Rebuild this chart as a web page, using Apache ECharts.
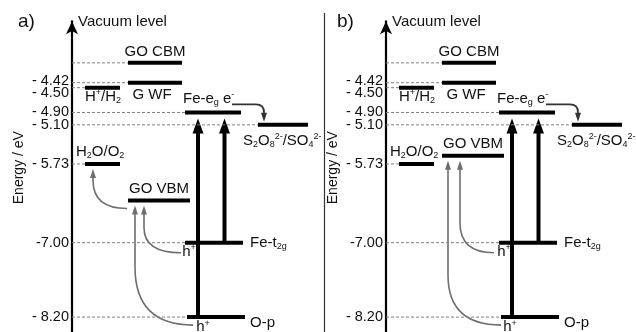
<!DOCTYPE html>
<html>
<head>
<meta charset="utf-8">
<script src="https://cdn.jsdelivr.net/npm/echarts@6/dist/echarts.min.js"></script>
<style>
html, body { margin: 0; padding: 0; background: #fff; }
#chart { width: 636px; height: 332px; }
</style>
</head>
<body>
<div id="chart"></div>
<script>
// energy levels, eV vs vacuum
var levelNames = ['GO CBM', 'G WF', 'H+/H2', 'Fe-eg', 'S2O8/SO4', 'H2O/O2', 'GO VBM', 'Fe-t2g', 'O-p'];
var energyA = [-4.10, -4.42, -4.50, -4.90, -5.10, -5.73, -6.32, -7.00, -8.20];
var energyB = [-4.10, -4.42, -4.50, -4.90, -5.10, -5.73, -5.60, -7.00, -8.20];
var tickValues = [-4.42, -4.50, -4.90, -5.10, -5.73, -7.00, -8.20];
var tickLabels = ['- 4.42', '- 4.50', '- 4.90', '- 5.10', '- 5.73', '-7.00', '- 8.20'];
// transitions [from, to]
var excitations = [['O-p', 'Fe-eg'], ['Fe-t2g', 'Fe-eg']];
var holesA = [['GO VBM', 'H2O/O2'], ['Fe-t2g', 'GO VBM'], ['O-p', 'GO VBM']];
var holesB = [['Fe-t2g', 'GO VBM'], ['O-p', 'GO VBM']];
var electrons = [['Fe-eg', 'S2O8/SO4']];

var FONT = "'Liberation Sans', Arial, Helvetica, sans-serif";
var TXT = '#111';
var rich = {
    sub: { fontSize: 9, fontFamily: FONT, fill: TXT, padding: [8, 0, 0, 0] },
    sup: { fontSize: 9, fontFamily: FONT, fill: TXT, padding: [0, 0, 8, 0] }
};

// x = px right of the energy axis, dy = label offset from the bar
var levelLayout = {
    'GO CBM':   { x1: 56, x2: 110, guide: true, text: 'GO CBM', tx: 83, dy: -11, align: 'center' },
    'G WF':     { x1: 56, x2: 110, guide: true, text: 'G WF', tx: 80, dy: 12, align: 'center' },
    'H+/H2':    { x1: 13, x2: 48, guide: true, text: 'H{sup|+}/H{sub|2}', tx: 31, dy: 9, align: 'center' },
    'Fe-eg':    { x1: 113, x2: 169, guide: true, text: 'Fe-e{sub|g} e{sup|-}', tx: 111, dy: -14, align: 'left' },
    'S2O8/SO4': { x1: 186, x2: 236, guide: true, text: 'S{sub|2}O{sub|8}{sup|2-}/SO{sub|4}{sup|2-}', tx: 171, dy: 16, align: 'left' },
    'H2O/O2':   { x1: 13, x2: 48, guide: true, text: 'H{sub|2}O/O{sub|2}', tx: 4, dy: -12, align: 'left' },
    'GO VBM':   { x1: 56, x2: 118, guide: false, text: 'GO VBM', tx: 87, dy: -12, align: 'center' },
    'Fe-t2g':   { x1: 113, x2: 171, guide: true, text: 'Fe-t{sub|2g}', tx: 178, dy: 0, align: 'left' },
    'O-p':      { x1: 115, x2: 173, guide: true, text: 'O-p', tx: 178, dy: 6, align: 'left' }
};
var tickShift = [-2, 5, 0, 0, 0, 0, 0];
var exciteX = [126, 152.5];
var holeLayoutA = [
    { sx: 55, sdy: 8, tx: 21, r: 28, h: null },
    { sx: 109, sdy: 10, tx: 72, r: 25, h: [117, 9] },
    { sx: 121, sdy: 8, tx: 63, r: 58, h: [131, 10] }
];
var holeLayoutB = [
    { sx: 108, sdy: 10, tx: 74, r: 30, h: [118, 9] },
    { sx: 115, sdy: 8, tx: 62, r: 50, h: [124, 10] }
];
var electronLayout = [{ sx: 160, sdy: -8, tx: 192, r: 8, tipDy: -3 }];

function idx(name) { return levelNames.indexOf(name); }
function transData(list, energies) {
    return list.map(function (p) {
        var a = idx(p[0]), b = idx(p[1]);
        return [a, energies[a], energies[b]];
    });
}
function head(tip, up, len, w, color) {
    var s = up ? 1 : -1;
    return {
        type: 'polygon',
        shape: { points: [[tip[0], tip[1]], [tip[0] - w / 2, tip[1] + s * len], [tip[0] + w / 2, tip[1] + s * len]] },
        style: { fill: color }
    };
}

function renderTick(params, api) {
    var p = api.coord([0, api.value(1)]);
    return { type: 'text', x: p[0] - 3, y: p[1] + tickShift[params.dataIndex],
        style: { text: tickLabels[params.dataIndex], fontSize: 14.5, fontFamily: FONT, fill: TXT, align: 'right', verticalAlign: 'middle' } };
}

function renderLevel(params, api) {
    var L = levelLayout[levelNames[api.value(0)]];
    var e = api.value(1);
    var p0 = api.coord([0, e]), p1 = api.coord([L.x1, e]), p2 = api.coord([L.x2, e]);
    var kids = [];
    if (L.guide) {
        kids.push({ type: 'line', z2: 1, shape: { x1: p0[0], y1: p0[1], x2: p1[0], y2: p1[1] },
            style: { stroke: '#808080', lineWidth: 1, lineDash: [3, 2] } });
    }
    kids.push({ type: 'line', z2: 5, shape: { x1: p1[0], y1: p1[1], x2: p2[0], y2: p2[1] },
        style: { stroke: '#000', lineWidth: 4 } });
    kids.push({ type: 'text', z2: 6, x: api.coord([L.tx, e])[0], y: p1[1] + L.dy,
        style: { text: L.text, fontSize: 15, fontFamily: FONT, fill: TXT, align: L.align, verticalAlign: 'middle', rich: rich } });
    return { type: 'group', children: kids };
}

function renderExcite(params, api) {
    var x = exciteX[params.dataIndex];
    var from = api.coord([x, api.value(1)]), to = api.coord([x, api.value(2)]);
    var tipY = to[1] + 6;
    return { type: 'group', children: [
        { type: 'line', shape: { x1: from[0], y1: from[1], x2: from[0], y2: tipY + 12 }, style: { stroke: '#000', lineWidth: 4 } },
        head([from[0], tipY], true, 15, 11, '#000')
    ] };
}

function renderHoles(layout) {
    return function (params, api) {
        var L = layout[params.dataIndex];
        var s = api.coord([L.sx, api.value(1)]);
        var t = api.coord([L.tx, api.value(2)]);
        var sy = s[1] + L.sdy, tipY = t[1] + 5;
        var d = 'M' + s[0] + ',' + sy + ' Q' + t[0] + ',' + sy + ' ' + t[0] + ',' + (sy - L.r) +
            ' L' + t[0] + ',' + (tipY + 8);
        var kids = [
            { type: 'path', shape: { pathData: d }, style: { stroke: '#6e6e6e', fill: null, lineWidth: 1.6 } },
            head([t[0], tipY], true, 9, 6, '#6e6e6e')
        ];
        if (L.h) {
            kids.push({ type: 'text', x: api.coord([L.h[0], 0])[0], y: api.coord([0, api.value(1)])[1] + L.h[1],
                style: { text: 'h{sup|+}', fontSize: 15, fontFamily: FONT, fill: TXT, align: 'center', verticalAlign: 'middle', rich: rich } });
        }
        return { type: 'group', children: kids };
    };
}

function renderElectron(params, api) {
    var L = electronLayout[params.dataIndex];
    var s = api.coord([L.sx, api.value(1)]);
    var t = api.coord([L.tx, api.value(2)]);
    var sy = s[1] + L.sdy, tipY = t[1] + L.tipDy;
    var d = 'M' + s[0] + ',' + sy + ' L' + (t[0] - L.r) + ',' + sy + ' Q' + t[0] + ',' + sy + ' ' + t[0] + ',' + (sy + L.r) +
        ' L' + t[0] + ',' + (tipY - 8);
    return { type: 'group', children: [
        { type: 'path', shape: { pathData: d }, style: { stroke: '#333', fill: null, lineWidth: 1.8 } },
        head([t[0], tipY], false, 9, 6, '#333')
    ] };
}

function yAxisFor(g) {
    return {
        type: 'value', gridIndex: g, min: -8.44, max: -3.43,
        name: 'Energy / eV', nameLocation: 'middle', nameGap: 46, nameRotate: 90,
        nameTextStyle: { fontFamily: FONT, fontSize: 14, color: TXT, padding: [0, 0, 0, 18] },
        axisLine: { show: true, symbol: ['none', 'arrow'], symbolSize: [9, 13], lineStyle: { color: '#000', width: 2.2 } },
        axisTick: { show: false },
        splitLine: { show: false },
        axisLabel: { show: false }
    };
}
function xAxisFor(g) {
    return { type: 'value', gridIndex: g, min: 0, max: 250, show: false };
}

function panelSeries(g, energies, holes, holeLayout) {
    return [
        { type: 'custom', xAxisIndex: g, yAxisIndex: g, renderItem: renderTick,
          encode: { x: 0, y: 1 }, data: tickValues.map(function (v) { return [0, v]; }) },
        { type: 'custom', xAxisIndex: g, yAxisIndex: g, renderItem: renderLevel,
          encode: { x: 0, y: 1 }, data: levelNames.map(function (n, i) { return [i, energies[i]]; }) },
        { type: 'custom', xAxisIndex: g, yAxisIndex: g, renderItem: renderHoles(holeLayout),
          encode: { x: 0, y: [1, 2] }, data: transData(holes, energies) },
        { type: 'custom', xAxisIndex: g, yAxisIndex: g, renderItem: renderExcite,
          encode: { x: 0, y: [1, 2] }, data: transData(excitations, energies) },
        { type: 'custom', xAxisIndex: g, yAxisIndex: g, renderItem: renderElectron,
          encode: { x: 0, y: [1, 2] }, data: transData(electrons, energies) }
    ];
}

var chart = echarts.init(document.getElementById('chart'));
chart.setOption({
    animation: false,
    backgroundColor: '#fff',
    grid: [
        { left: 72, top: 21.3, width: 250, bottom: 0, outerBoundsMode: 'none' },
        { left: 386, top: 21.3, width: 250, bottom: 0, outerBoundsMode: 'none' }
    ],
    xAxis: [xAxisFor(0), xAxisFor(1)],
    yAxis: [yAxisFor(0), yAxisFor(1)],
    graphic: [
        { type: 'text', left: 18, top: 12, style: { text: 'a)', fontSize: 19, fontFamily: FONT, fill: TXT } },
        { type: 'text', left: 337, top: 12, style: { text: 'b)', fontSize: 19, fontFamily: FONT, fill: TXT } },
        { type: 'text', left: 78, top: 14, style: { text: 'Vacuum level', fontSize: 15, fontFamily: FONT, fill: TXT } },
        { type: 'text', left: 392, top: 14, style: { text: 'Vacuum level', fontSize: 15, fontFamily: FONT, fill: TXT } },
        { type: 'line', shape: { x1: 324.5, y1: 13, x2: 324.5, y2: 332 }, style: { stroke: '#333', lineWidth: 1.2 } }
    ],
    series: panelSeries(0, energyA, holesA, holeLayoutA).concat(panelSeries(1, energyB, holesB, holeLayoutB))
});
</script>
</body>
</html>
